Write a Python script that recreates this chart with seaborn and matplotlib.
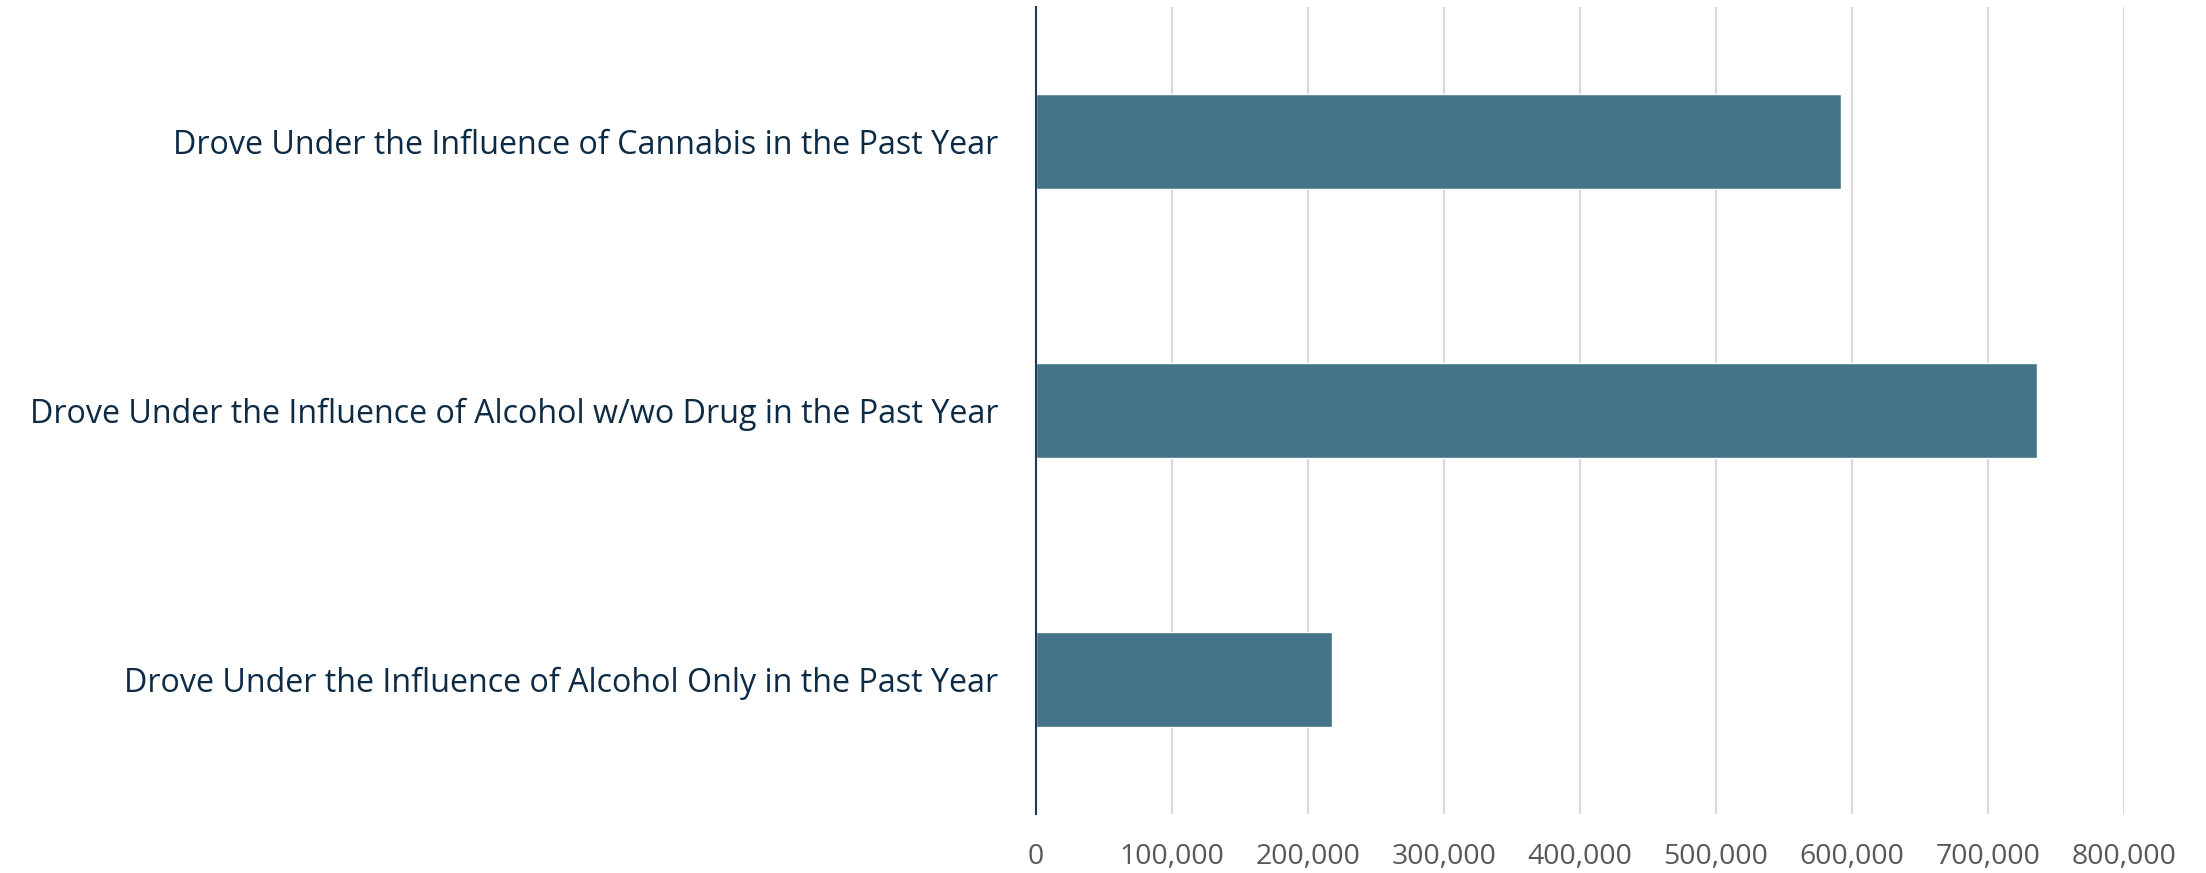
import pandas as pd
import matplotlib.pyplot as plt
import matplotlib.ticker as mticker
import seaborn as sns

# Chart data
categories = [
    'Drove Under the Influence of Cannabis in the Past Year',
    'Drove Under the Influence of Alcohol w/wo Drug in the Past Year',
    'Drove Under the Influence of Alcohol Only in the Past Year',
]
people = [592000, 736000, 218000]
x_ticks = [0, 100000, 200000, 300000, 400000, 500000, 600000, 700000, 800000]

df = pd.DataFrame({'Category': categories, 'People': people})

sns.set_style('white')
plt.rcParams['font.family'] = ['Open Sans', 'DejaVu Sans']

fig = plt.figure(figsize=(22.06, 8.73), dpi=100)
ax = fig.add_axes([1036 / 2206, 1 - 814 / 873, (2124 - 1036) / 2206, (814 - 7) / 873])

sns.barplot(data=df, x='People', y='Category', orient='h', color='#457489',
            saturation=1, width=0.353, ax=ax, zorder=3)

ax.set_xlim(0, 800000)
ax.set_ylim(2.5, -0.5)
ax.set_xticks(x_ticks)
ax.xaxis.set_major_formatter(mticker.FuncFormatter(lambda v, p: f'{int(v):,}'))
ax.grid(axis='x', color='#D9D9D9', linewidth=1.5, zorder=0)
ax.grid(axis='y', visible=False)

for side in ['top', 'right', 'bottom']:
    ax.spines[side].set_visible(False)
ax.spines['left'].set_color('#1F3B57')
ax.spines['left'].set_linewidth(1.5)
ax.spines['left'].set_zorder(4)

ax.tick_params(axis='x', length=0, pad=21, labelsize=20.5, labelcolor='#595959')
ax.tick_params(axis='y', length=0, pad=27, labelsize=23.2, labelcolor='#0D2B45')
ax.set_xlabel('')
ax.set_ylabel('')

plt.savefig('out.png', dpi=100)
